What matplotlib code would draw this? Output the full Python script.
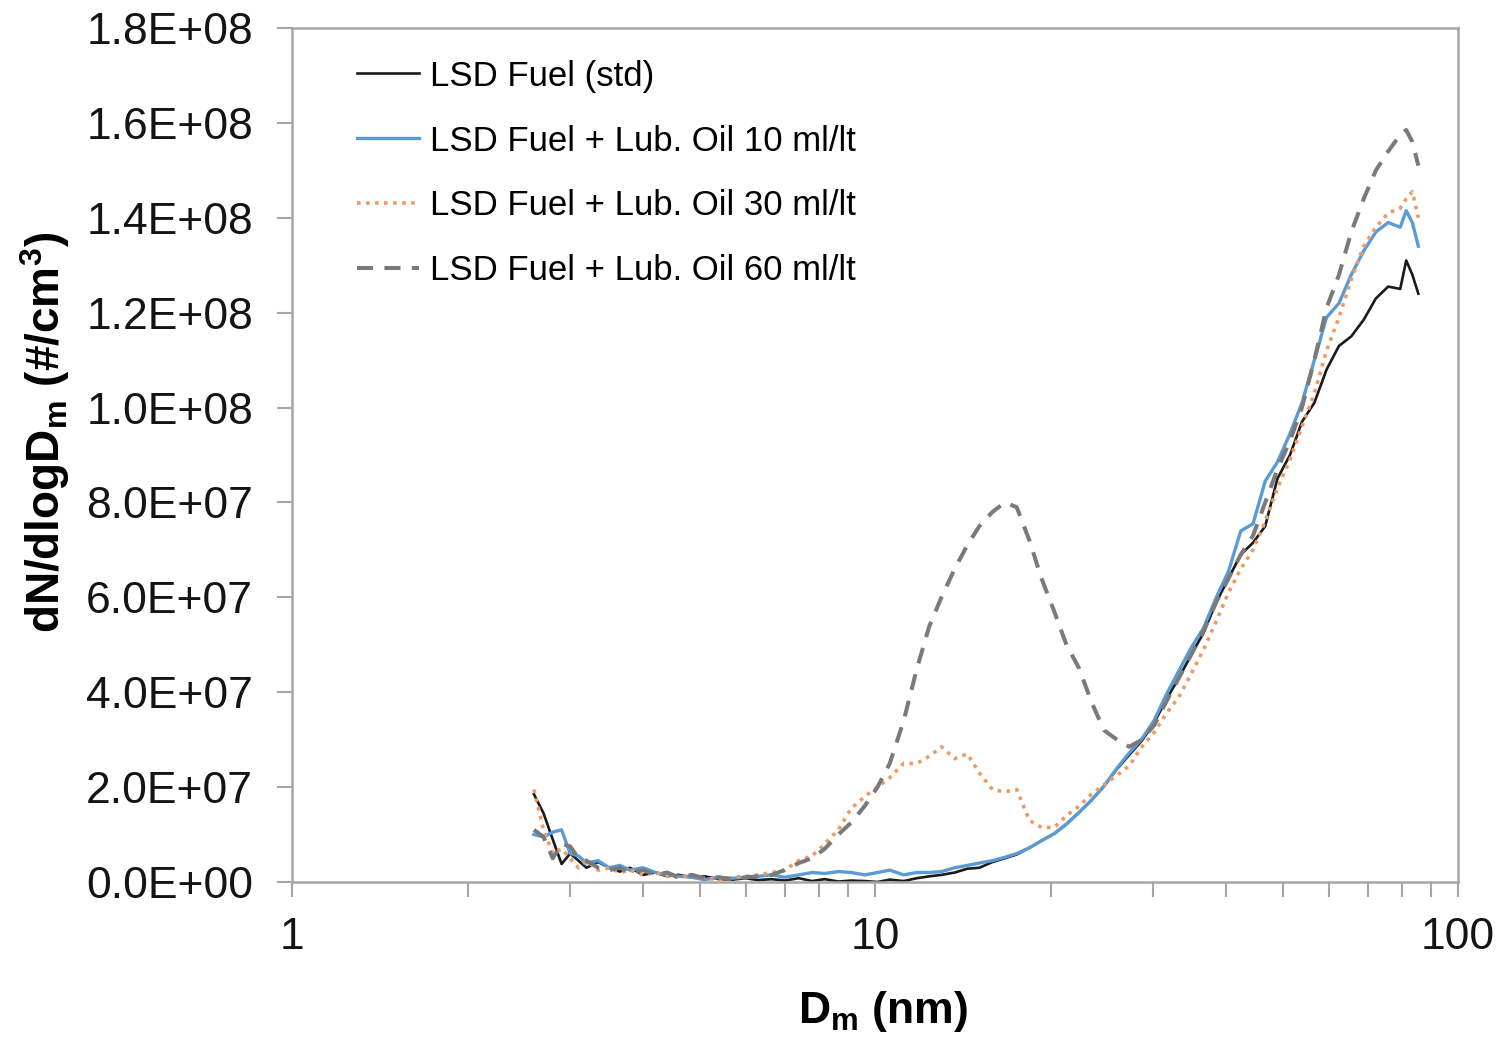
import matplotlib
matplotlib.use("Agg")
import matplotlib.pyplot as plt
import numpy as np
from matplotlib.ticker import FixedLocator, FuncFormatter, NullFormatter

plt.rcParams['font.family'] = ['Liberation Sans', 'DejaVu Sans']
plt.rcParams['mathtext.fontset'] = 'custom'
plt.rcParams['mathtext.rm'] = 'Liberation Sans'
plt.rcParams['mathtext.bf'] = 'Liberation Sans:bold'
plt.rcParams['mathtext.it'] = 'Liberation Sans:italic'

# Mobility diameter (nm)
diameter_nm = [2.6, 2.7, 2.8, 2.9, 3.0, 3.1, 3.2, 3.35, 3.5, 3.65,
               3.8, 4.0, 4.2, 4.4, 4.6, 4.85, 5.1, 5.4, 5.7, 6.0,
               6.3, 6.65, 7.0, 7.4, 7.8, 8.2, 8.65, 9.1, 9.6, 10.1,
               10.6, 11.2, 11.8, 12.4, 13.0, 13.7, 14.4, 15.1, 15.9, 16.7,
               17.5, 18.4, 19.3, 20.3, 21.3, 22.4, 23.5, 24.7, 26.0, 27.3,
               28.7, 30.1, 31.6, 33.2, 34.9, 36.6, 38.5, 40.4, 42.4, 44.5,
               46.7, 49.0, 51.5, 54.0, 56.7, 59.5, 62.5, 65.6, 68.9, 72.3,
               75.9, 79.6, 81.5, 83.5, 85.5]

# dN/dlogDm in units of 1e7 #/cm3
std_e7 = [1.85, 1.45, 0.90, 0.38, 0.60, 0.45, 0.30, 0.42, 0.30, 0.22,
          0.30, 0.15, 0.20, 0.12, 0.15, 0.10, 0.12, 0.06, 0.05, 0.08,
          0.04, 0.06, 0.03, 0.08, 0.02, 0.06, 0.01, 0.03, 0.02, 0.00,
          0.05, 0.02, 0.08, 0.12, 0.15, 0.20, 0.28, 0.30, 0.42, 0.50,
          0.58, 0.72, 0.87, 1.02, 1.22, 1.47, 1.72, 2.02, 2.38, 2.68,
          2.98, 3.35, 3.85, 4.30, 4.80, 5.25, 5.90, 6.40, 6.90, 7.15,
          7.50, 8.50, 9.00, 9.70, 10.10, 10.80, 11.30, 11.50, 11.85, 12.30,
          12.55, 12.50, 13.10, 12.80, 12.40]

oil10_e7 = [1.00, 0.95, 1.05, 1.10, 0.60, 0.55, 0.40, 0.45, 0.30, 0.35,
            0.25, 0.30, 0.20, 0.15, 0.12, 0.10, 0.05, 0.10, 0.08, 0.10,
            0.12, 0.15, 0.10, 0.15, 0.20, 0.18, 0.22, 0.20, 0.15, 0.20,
            0.25, 0.15, 0.20, 0.20, 0.22, 0.30, 0.35, 0.40, 0.45, 0.52,
            0.60, 0.72, 0.87, 1.02, 1.22, 1.47, 1.72, 2.02, 2.40, 2.72,
            3.02, 3.40, 3.95, 4.45, 4.95, 5.35, 6.00, 6.55, 7.40, 7.55,
            8.45, 8.85, 9.45, 10.10, 11.00, 11.90, 12.20, 12.80, 13.30, 13.70,
            13.90, 13.80, 14.15, 13.90, 13.40]

oil30_e7 = [1.95, 1.10, 0.60, 0.70, 0.50, 0.30, 0.45, 0.25, 0.30, 0.20,
            0.25, 0.15, 0.20, 0.12, 0.10, 0.15, 0.08, 0.05, 0.10, 0.12,
            0.15, 0.20, 0.25, 0.45, 0.55, 0.80, 1.10, 1.55, 1.80, 2.00,
            2.20, 2.50, 2.50, 2.65, 2.85, 2.60, 2.70, 2.30, 1.95, 1.90,
            1.95, 1.30, 1.15, 1.15, 1.40, 1.60, 1.85, 2.05, 2.25, 2.45,
            2.85, 3.15, 3.55, 3.90, 4.40, 4.90, 5.50, 6.10, 6.60, 7.00,
            7.60, 8.30, 8.90, 9.60, 10.30, 11.20, 11.90, 12.70, 13.40, 13.80,
            14.10, 14.20, 14.40, 14.55, 14.00]

oil60_e7 = [1.10, 0.95, 0.50, 0.80, 0.75, 0.50, 0.45, 0.30, 0.25, 0.30,
            0.20, 0.25, 0.15, 0.20, 0.10, 0.15, 0.08, 0.10, 0.05, 0.10,
            0.12, 0.15, 0.25, 0.40, 0.50, 0.70, 1.00, 1.25, 1.60, 2.00,
            2.50, 3.40, 4.50, 5.40, 6.00, 6.60, 7.10, 7.50, 7.80, 8.00,
            7.90, 7.20, 6.40, 5.70, 5.00, 4.50, 3.80, 3.20, 3.00, 2.85,
            3.00, 3.30, 3.80, 4.30, 4.80, 5.30, 5.90, 6.40, 6.90, 7.30,
            8.00, 8.70, 9.30, 10.00, 11.00, 12.10, 12.80, 13.70, 14.40, 15.00,
            15.40, 15.75, 15.85, 15.60, 15.10]

series_labels = ['LSD Fuel (std)',
                 'LSD Fuel + Lub. Oil 10 ml/lt',
                 'LSD Fuel + Lub. Oil 30 ml/lt',
                 'LSD Fuel + Lub. Oil 60 ml/lt']

y_ticks = [0, 2e7, 4e7, 6e7, 8e7, 1.0e8, 1.2e8, 1.4e8, 1.6e8, 1.8e8]
x_major_ticks = [1, 10, 100]
x_tick_labels = ['1', '10', '100']

fig = plt.figure(figsize=(14.99, 10.41), dpi=100)
ax = fig.add_axes([0.19480, 0.15274, 0.77785, 0.82037])

D = np.array(diameter_nm)
ax.plot(D, np.array(std_e7) * 1e7, color='#1a1a1a', lw=1.9,
        label=series_labels[0])
ax.plot(D, np.array(oil10_e7) * 1e7, color='#5b9bd5', lw=2.4,
        label=series_labels[1])
ax.plot(D, np.array(oil30_e7) * 1e7, color='#ef9a62', lw=2.6,
        linestyle=(0, (1, 1.5)), label=series_labels[2])
ax.plot(D, np.array(oil60_e7) * 1e7, color='#7a7a7a', lw=2.9,
        linestyle=(0, (4, 2.8)), label=series_labels[3])

ax.set_xscale('log')
ax.set_xlim(1, 100)
ax.set_ylim(0, 1.8e8)

spine_color = '#a6a6a6'
for s in ax.spines.values():
    s.set_color(spine_color)
    s.set_linewidth(1.8)

ax.xaxis.set_major_locator(FixedLocator(x_major_ticks))
ax.xaxis.set_major_formatter(FuncFormatter(
    lambda v, p: x_tick_labels[x_major_ticks.index(int(round(v)))]
    if int(round(v)) in x_major_ticks else ''))
ax.xaxis.set_minor_formatter(NullFormatter())
ax.yaxis.set_major_locator(FixedLocator(y_ticks))
ax.yaxis.set_major_formatter(FuncFormatter(lambda v, p: f"{v:.1E}"))

ax.tick_params(axis='both', which='both', direction='out', color=spine_color,
               width=1.5, length=11, labelsize=32, labelcolor='#141414')
ax.tick_params(axis='y', pad=17)
ax.tick_params(axis='x', which='major', pad=14)
ax.tick_params(axis='y', which='minor', left=False)

ax.set_ylabel(r'dN/dlogD$_{\mathregular{m}}$ (#/cm$^{\mathregular{3}}$)',
              fontsize=33, fontweight='bold', va='center')
ax.yaxis.set_label_coords(-0.212, 0.526)
ax.set_xlabel(r'D$_{\mathregular{m}}$ (nm)', fontsize=32,
              fontweight='bold', va='center')
ax.xaxis.set_label_coords(0.507, -0.152)

ax.legend(loc='upper left', bbox_to_anchor=(0.0557, 0.963), frameon=False,
          fontsize=25, borderaxespad=0, borderpad=0, handlelength=1.8,
          handletextpad=0.3, labelspacing=0.92)

fig.savefig('out.png', dpi=100, facecolor='white')
